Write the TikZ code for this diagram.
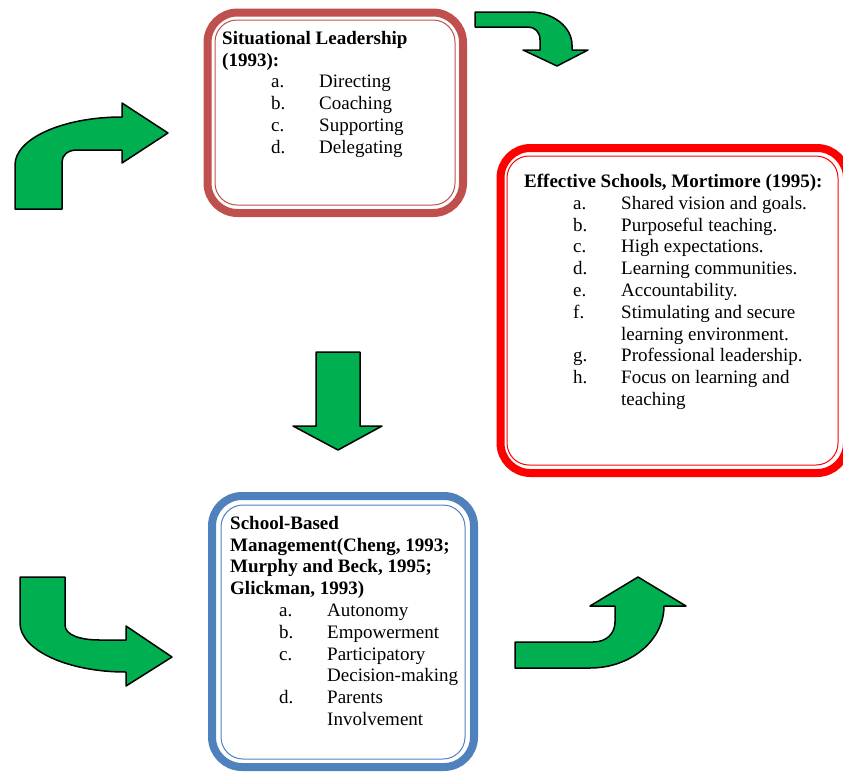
\documentclass[tikz,border=0pt]{standalone}
\usepackage{fontspec}
\setmainfont{Liberation Serif}
\usepackage{tikz}
\usetikzlibrary{positioning}
\definecolor{arrowgreen}{HTML}{00B050}
\definecolor{sitred}{HTML}{C0504D}
\definecolor{effred}{HTML}{FF0000}
\definecolor{sbmblue}{HTML}{4F81BD}
\tikzstyle{garrow}=[fill=arrowgreen,draw=black,line width=1.5pt,line join=round]
\tikzstyle{outerbox}=[line width=8pt,rounded corners=30pt]
\tikzstyle{innerbox}=[line width=1pt,rounded corners=22pt]
\tikzstyle{blk}=[anchor=north west,inner sep=0pt,align=left,
font=\fontsize{19}{21.8}\selectfont]
\newcommand{\itm}[2]{\hspace*{49pt}\makebox[48pt][l]{#1}#2}
\newcommand{\cnt}[1]{\hspace*{97pt}#1}

\begin{document}
\begin{tikzpicture}[x=1pt,y=-1pt]
\useasboundingbox (0,0) rectangle (843,772);
% boxes
\draw[outerbox,sitred] (207.5,12.5) rectangle (463,213);
\draw[innerbox,sitred] (215,20) rectangle (455,205);
\draw[outerbox,effred] (500.5,148) rectangle (847,473);
\draw[innerbox,effred] (507,156) rectangle (838,465);
\draw[outerbox,sbmblue] (212,496) rectangle (474,767);
\draw[innerbox,sbmblue] (221,505) rectangle (465,759);
% texts
\node[blk] (sit) at (222,31) {\textbf{Situational Leadership}\\\textbf{(1993):}\\
\itm{a.}{Directing}\\\itm{b.}{Coaching}\\\itm{c.}{Supporting}\\\itm{d.}{Delegating}};
\node[blk] (eff) at (524,174) {\textbf{Effective Schools, Mortimore (1995):}\\
\itm{a.}{Shared vision and goals.}\\\itm{b.}{Purposeful teaching.}\\
\itm{c.}{High expectations.}\\\itm{d.}{Learning communities.}\\
\itm{e.}{Accountability.}\\\itm{f.}{Stimulating and secure}\\
\cnt{learning environment.}\\\itm{g.}{Professional leadership.}\\
\itm{h.}{Focus on learning and}\\\cnt{teaching}};
\node[blk] (sbm) at (230,516) {\textbf{School-Based}\\\textbf{Management(Cheng, 1993;}\\
\textbf{Murphy and Beck, 1995;}\\\textbf{Glickman, 1993)}\\
\itm{a.}{Autonomy}\\\itm{b.}{Empowerment}\\\itm{c.}{Participatory}\\
\cnt{Decision-making}\\\itm{d.}{Parents}\\\cnt{Involvement}};
% arrows
\draw[garrow] (15,209) -- (15,165) .. controls (15,138.5) and (63,117) .. (122,117)
  -- (122,103) -- (168,133) -- (122,163) -- (122,150) -- (77,150)
  .. controls (68,150) and (62,155) .. (62,162) -- (62,209) -- cycle;
\draw[garrow] (475,12) -- (530,12) .. controls (553,12) and (572,27) .. (572,45)
  -- (572,50) -- (588,50) -- (557,66) -- (523,50) -- (540,50) -- (540,40)
  .. controls (540,32) and (535,27) .. (528,27) -- (475,27) -- cycle;
\draw[garrow] (316,352) -- (360,352) -- (360,426) -- (382,426) -- (338,450)
  -- (293,426) -- (316,426) -- cycle;
\draw[garrow] (20,577) -- (65,577) -- (65,625) .. controls (65,635) and (80,640) .. (100,640)
  -- (126,640) -- (126,626) -- (172,657) -- (126,686) -- (126,672)
  .. controls (67.5,672) and (20,650) .. (20,623) -- cycle;
\draw[garrow] (515,642) -- (593,642) .. controls (607,642) and (615,633) .. (615,622)
  -- (615,606) -- (590,606) -- (638,577) -- (686,606) -- (664,606)
  .. controls (664,640) and (631,668) .. (590,668) -- (515,668) -- cycle;
\end{tikzpicture}
\end{document}
